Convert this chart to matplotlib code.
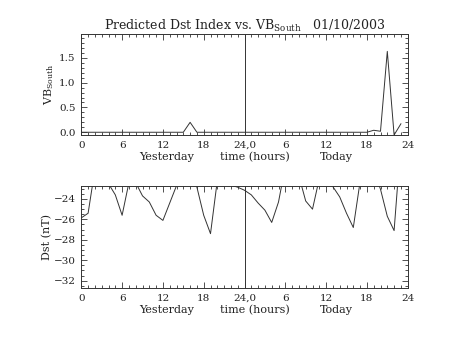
import numpy as np
import matplotlib
matplotlib.use('Agg')
import matplotlib.pyplot as plt
from matplotlib.ticker import MultipleLocator, FixedLocator

plt.rcParams['font.family'] = 'DejaVu Serif'
plt.rcParams['mathtext.fontset'] = 'custom'
plt.rcParams['mathtext.rm'] = 'DejaVu Serif'

# hours since start of yesterday (0..47)
hours = np.arange(48)

# VB south, hourly
vbs = [0, 0, 0, 0, 0, 0, 0, 0, 0, 0, 0, 0,
       0, 0, 0, 0, 0.2, 0, 0, 0, 0, 0, 0, 0,
       0, 0, 0, 0, 0, 0, 0, 0, 0, 0, 0, 0,
       0, 0, 0, 0, 0, 0, 0, 0.04, 0.02, 1.63, -0.055, 0.17]

# predicted Dst (nT), hourly - values above the plot top get clipped
dst = [-25.85, -25.4, -21.1, -21.5, -22.5, -23.6, -25.6, -22.4,
       -22.4, -23.7, -24.3, -25.6, -26.1, -24.4, -22.7, -22.0,
       -21.7, -22.85, -25.6, -27.4, -22.2, -22.0, -22.65, -22.85,
       -23.15, -23.6, -24.4, -25.1, -26.3, -24.3, -20.8, -21.5,
       -21.75, -24.2, -25.0, -22.0, -22.0, -22.8, -23.8, -25.4,
       -26.8, -22.3, -21.5, -21.2, -23.05, -25.7, -27.1, -18.4]

xticks = [0, 6, 12, 18, 24, 30, 36, 42, 48]
xticklabels = ['0', '6', '12', '18', '24,0', '6', '12', '18', '24']

fig = plt.figure(figsize=(4.53, 3.40), dpi=100)
ax1 = fig.add_axes([0.1795, 0.603, 0.7205, 0.297])
ax2 = fig.add_axes([0.1795, 0.153, 0.7205, 0.300])

lc = '#333333'
tc = '#222222'


def style(ax):
    ax.set_xlim(0, 48)
    ax.xaxis.set_major_locator(FixedLocator(xticks))
    ax.set_xticklabels(xticklabels)
    ax.xaxis.set_minor_locator(MultipleLocator(1))
    ax.tick_params(which='both', direction='in', top=True, right=True,
                   colors=lc, labelcolor=tc, width=0.6)
    ax.tick_params(which='major', length=4, labelsize=7.5, pad=4)
    ax.tick_params(which='minor', length=2)
    for s in ax.spines.values():
        s.set_color(lc)
        s.set_linewidth(0.7)
    ax.axvline(24, color=lc, lw=0.7)
    tr = ax.get_xaxis_transform()
    ax.text(12.5, -0.17, 'Yesterday', transform=tr,
            ha='center', va='top', fontsize=8, color=tc)
    ax.text(25.5, -0.17, 'time (hours)', transform=tr,
            ha='center', va='top', fontsize=8, color=tc)
    ax.text(37.5, -0.17, 'Today', transform=tr,
            ha='center', va='top', fontsize=8, color=tc)


ax1.plot(hours, vbs, color=lc, lw=0.7)
style(ax1)
ax1.set_ylim(-0.055, 1.98)
ax1.yaxis.set_major_locator(MultipleLocator(0.5))
ax1.yaxis.set_minor_locator(MultipleLocator(0.1))
ax1.yaxis.set_major_formatter(matplotlib.ticker.FormatStrFormatter('%.1f'))
ax1.set_ylabel(r'VB$_{\rm South}$', fontsize=8, color=tc, labelpad=2)
ax1.set_title(r'Predicted Dst Index vs. VB$_{\rm South}$   01/10/2003',
              fontsize=9, color=tc, pad=3)

ax2.plot(hours, dst, color=lc, lw=0.7)
style(ax2)
ax2.set_ylim(-32.72, -22.73)
ax2.yaxis.set_major_locator(MultipleLocator(2))
ax2.yaxis.set_minor_locator(MultipleLocator(0.5))
ax2.set_ylabel('Dst (nT)', fontsize=8, color=tc, labelpad=1)

fig.savefig('out.png', dpi=100)
